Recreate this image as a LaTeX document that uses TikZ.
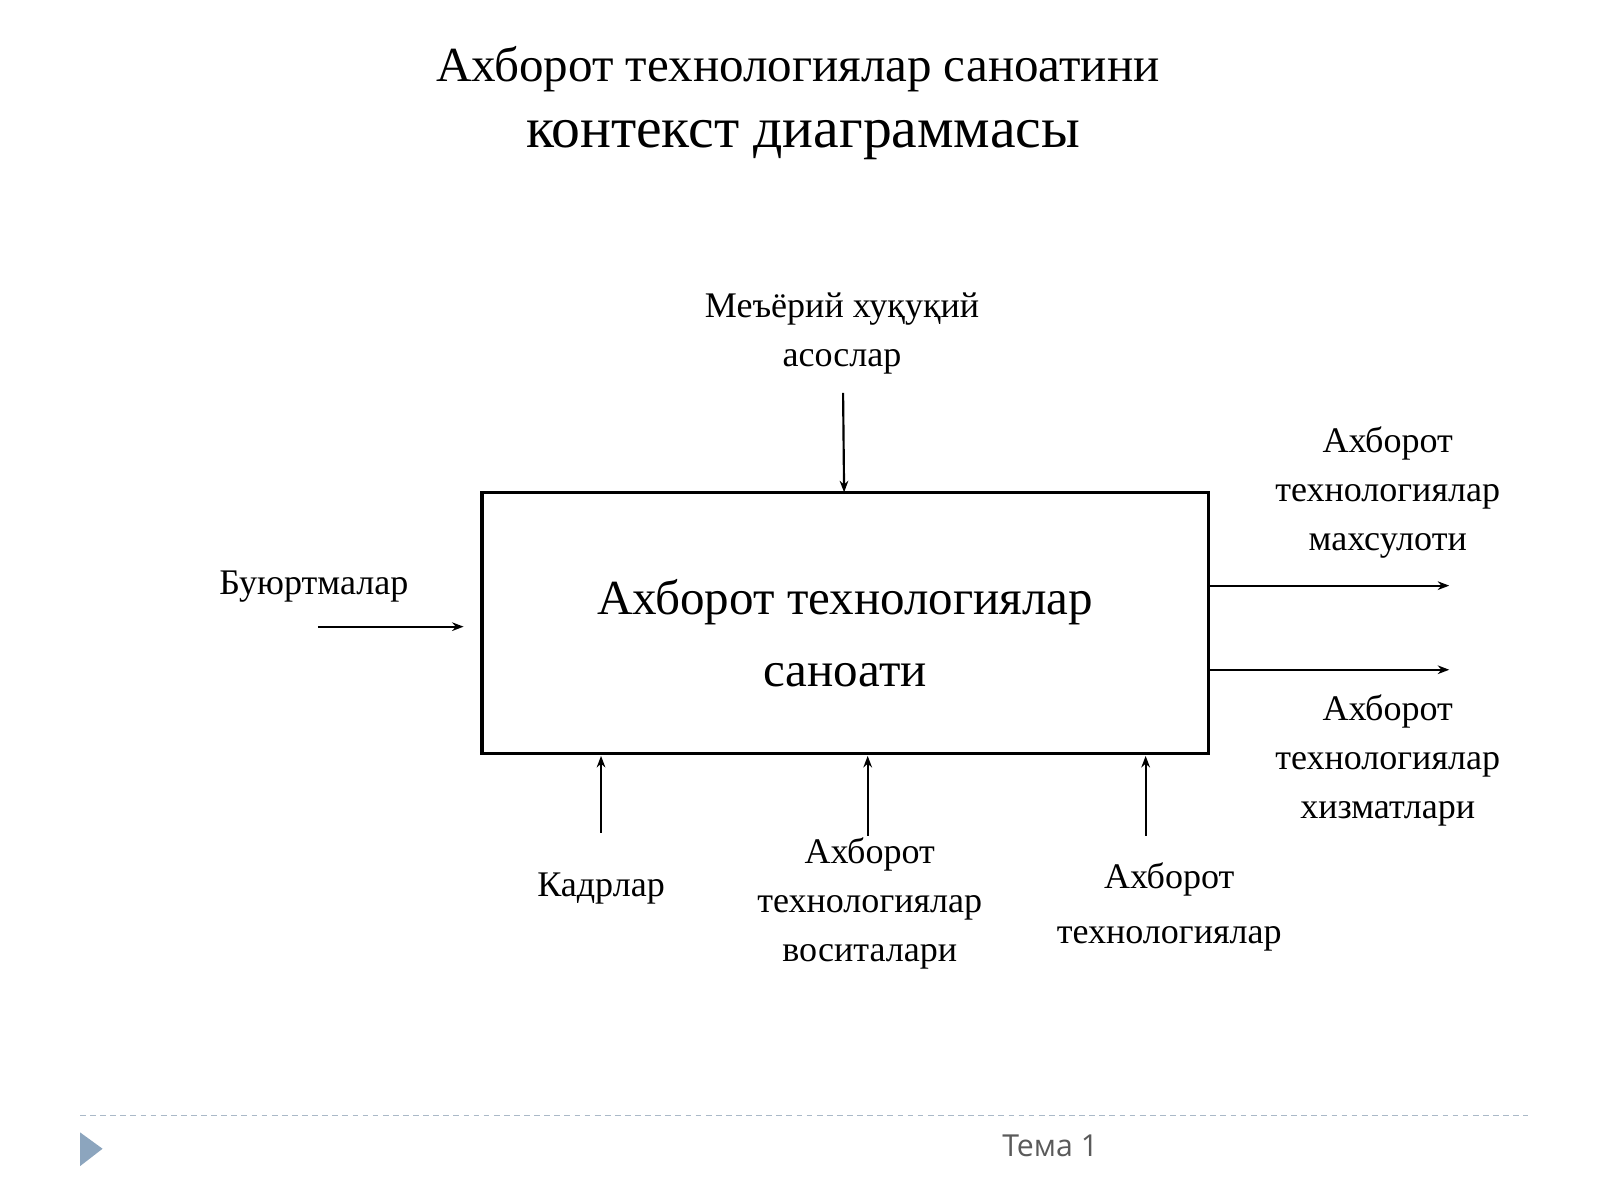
\documentclass[tikz,border=0pt]{standalone}
\usepackage{fontspec}
\setmainfont{Liberation Serif}
\newfontfamily\footfont{Open Sans}
\usetikzlibrary{arrows.meta}
\begin{document}
\begin{tikzpicture}[x=0.05cm,y=-0.05cm,
  lbl/.style={font=\fontsize{50}{68}\selectfont,align=center,inner sep=0},
  arr/.style={line width=3pt,-{Stealth[length=16pt,width=12pt]}}]
\useasboundingbox (0,0) rectangle (1560,1170);
\node[inner sep=0,font=\fontsize{68}{70}\selectfont] (t1) at (778,67) {Ахборот технологиялар саноатини};
\node[inner sep=0,font=\fontsize{80}{82}\selectfont] (t2) at (783,137) {контекст диаграммасы};
\node[draw,line width=4.5pt,minimum width=708*0.05cm,minimum height=255*0.05cm,inner sep=0] (box) at (824,607.5) {};
\node[lbl,font=\fontsize{68}{100}\selectfont] (bt) at (824,617) {Ахборот технологиялар\\саноати};
\node[lbl] (top) at (821,325) {Меъёрий хуқуқий\\асослар};
\node[lbl] (left) at (306,572) {Буюртмалар};
\node[lbl] (r1) at (1353,480) {Ахборот\\технологиялар\\махсулоти};
\node[lbl] (r2) at (1353,741) {Ахборот\\технологиялар\\хизматлари};
\node[lbl] (b1) at (586,866) {Кадрлар};
\node[lbl] (b2) at (848,881) {Ахборот\\технологиялар\\воситалари};
\node[lbl,font=\fontsize{50}{76}\selectfont] (b3) at (1140,884) {Ахборот\\технологиялар};
\coordinate (c0) at (822,383); \coordinate (c0e) at (823,480);
\coordinate (l0) at (310,611); \coordinate (l0e) at (452,611);
\coordinate (r1s) at (1180,571); \coordinate (r1e) at (1413,571);
\coordinate (r2s) at (1180,653); \coordinate (r2e) at (1413,653);
\coordinate (b1s) at (586,812); \coordinate (b1e) at (586,737);
\coordinate (b2s) at (846,815); \coordinate (b2e) at (846,737);
\coordinate (b3s) at (1117,815); \coordinate (b3e) at (1117,737);
\draw[arr] (c0) -- (c0e);
\draw[arr] (l0) -- (l0e);
\draw[arr] (r1s) -- (r1e);
\draw[arr] (r2s) -- (r2e);
\draw[arr] (b1s) -- (b1e);
\draw[arr] (b2s) -- (b2e);
\draw[arr] (b3s) -- (b3e);
\draw[color={rgb,255:red,170;green,185;blue,200},line width=1.5pt,dash pattern=on 8pt off 6pt] (78,1088) -- (1490,1088);
\fill[color={rgb,255:red,140;green,165;blue,190}] (78,1104) -- (100,1120) -- (78,1137) -- cycle;
\node[inner sep=0,font=\footfont\fontsize{42}{44}\selectfont,text={rgb,255:red,90;green,90;blue,90}] (ft) at (1024,1117) {Тема 1};
\end{tikzpicture}
\end{document}
